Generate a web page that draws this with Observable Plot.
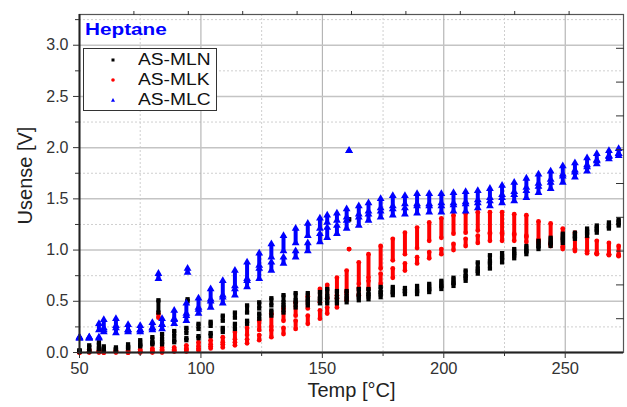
<!DOCTYPE html>
<html>
<head>
<meta charset="utf-8">
<script src="https://cdn.jsdelivr.net/npm/d3@7"></script>
<script src="https://cdn.jsdelivr.net/npm/@observablehq/plot@0.6"></script>
<style>
  body { margin: 0; background: #fff; font-family: "Liberation Sans", Arial, sans-serif; }
  #wrap { position: relative; width: 627px; height: 407px; }
  #title { position: absolute; left: 85px; top: 20px; font-weight: bold; font-size: 17px; color: #0000ff; transform: scaleX(1.22); transform-origin: left top; }
  #legend { position: absolute; left: 83px; top: 48px; width: 132px; height: 61px; border: 1px solid #333; background: #fff; }
  .row { position: absolute; left: 0; width: 132px; height: 20px; font-size: 16px; color: #111; }
  .row svg { position: absolute; left: 25px; top: 6px; }
  .row span { position: absolute; left: 54px; top: 1px; transform: scaleX(1.2); transform-origin: left top; }
</style>
</head>
<body>
<div id="wrap">
  <div id="chart"></div>
  <div id="title">Heptane</div>
  <div id="legend"></div>
</div>
<script>
// ---- data ----
const seriesNames = ["AS-MLN", "AS-MLK", "AS-MLC"];
const seriesColors = ["#000000", "#ff0000", "#0000ff"];
const seriesSymbols = ["square", "circle", "triangle"];

const temps = [50,54,58,60,65,70,75,80,84,89,94,99,104,109,114,119,124,129,134,139,144,149,152,156,160,165,169,174,179,184,189,194,199,204,209,214,219,224,229,234,239,244,249,254,259,263,268,272];

// AS-MLN (black)
const mlnUpTop = [.02,.07,.10,.06,.05,.08,.12,.15,.18,.21,.24,.28,.30,.36,.39,.46,.49,.53,.56,.58,.58,.59,.62,.60,.60,.62,.62,.64,.64,.63,.65,.67,.70,.73,.80,.88,.95,.97,1.01,1.04,1.09,1.12,1.16,1.17,1.21,1.24,1.27,1.30];
const mlnUpBot = [.01,.05,.07,.03,.03,.05,.08,.10,.13,.16,.19,.23,.26,.31,.34,.39,.43,.46,.49,.51,.52,.53,.55,.54,.55,.56,.57,.59,.60,.60,.61,.63,.66,.69,.75,.82,.89,.93,.97,1.00,1.05,1.08,1.12,1.14,1.18,1.21,1.24,1.27];
const mlnLoTop = [.02,.02,.04,.03,.03,.05,.07,.09,.10,.12,.14,.16,.19,.24,.28,.31,.38,.41,.46,.49,.50,.52,.53,.52,.53,.55,.56,.58,.59,.60,.60,.62,.65,.68,.74,.80,.87,.92,.96,.99,1.04,1.07,1.11,1.13,1.17,1.20,1.23,1.26];
const mlnLoBot = [.01,.01,.03,.02,.02,.04,.06,.08,.08,.10,.12,.14,.16,.20,.23,.28,.33,.36,.39,.44,.46,.48,.48,.48,.49,.51,.52,.54,.56,.57,.57,.59,.62,.65,.70,.77,.82,.88,.92,.96,1.01,1.04,1.07,1.11,1.14,1.17,1.21,1.24];

// AS-MLK (red)
const mlkUpTop = [.01,.03,.02,.02,.02,.02,.03,.04,.05,.05,.07,.10,.12,.15,.20,.24,.31,.38,.43,.49,.55,.62,.66,.73,.80,.88,.96,1.04,1.11,1.17,1.22,1.27,1.31,1.34,1.36,1.37,1.37,1.37,1.35,1.34,1.28,1.26,1.21,1.17,1.12,1.09,1.07,1.04];
const mlkUpBot = [.00,.01,.01,.00,.01,.00,.01,.02,.03,.03,.04,.06,.08,.10,.13,.17,.22,.25,.31,.36,.43,.49,.53,.56,.60,.67,.73,.82,.90,.96,1.02,1.09,1.12,1.16,1.17,1.19,1.17,1.17,1.16,1.14,1.09,1.06,1.03,1.01,.99,.97,.96,.95];
const mlkLoTop = [.00,.01,.01,.00,.01,.00,.01,.01,.02,.02,.03,.04,.06,.08,.10,.13,.17,.22,.24,.31,.36,.41,.44,.53,.58,.63,.70,.77,.82,.87,.93,.98,1.01,1.06,1.11,1.14,1.16,1.16,1.15,1.13,1.10,1.06,1.03,1.01,.99,.97,.96,.95];
const mlkLoBot = [.00,.00,.00,.00,.00,.00,.00,.00,.00,.01,.01,.02,.04,.05,.07,.09,.12,.15,.18,.23,.28,.33,.38,.44,.51,.56,.62,.67,.73,.80,.87,.92,.96,1.00,1.04,1.07,1.09,1.09,1.09,1.08,1.07,1.04,1.01,.99,.97,.96,.95,.94];

// AS-MLC (blue)
const mlcUpTop = [.15,.15,.28,.32,.33,.27,.26,.29,.33,.41,.48,.53,.62,.70,.80,.88,.97,1.06,1.14,1.21,1.26,1.31,1.34,1.36,1.40,1.43,1.46,1.50,1.53,1.53,1.55,1.55,1.55,1.56,1.57,1.58,1.60,1.63,1.66,1.70,1.74,1.77,1.82,1.85,1.90,1.94,1.97,1.99];
const mlcUpBot = [.14,.14,.22,.24,.26,.22,.22,.24,.27,.33,.38,.44,.52,.56,.65,.72,.85,.93,.99,1.07,1.14,1.21,1.27,1.29,1.32,1.35,1.38,1.41,1.43,1.45,1.45,1.45,1.46,1.46,1.47,1.49,1.51,1.54,1.57,1.61,1.65,1.69,1.74,1.78,1.83,1.88,1.92,1.94];
const mlcLoTop = [.15,.15,.15,.22,.24,.22,.22,.24,.27,.32,.36,.42,.50,.54,.62,.70,.82,.88,.93,.99,1.07,1.16,1.22,1.24,1.29,1.32,1.35,1.38,1.40,1.41,1.43,1.43,1.43,1.44,1.45,1.46,1.48,1.51,1.54,1.58,1.62,1.66,1.72,1.76,1.81,1.87,1.91,1.94];
const mlcLoBot = [.14,.14,.14,.20,.19,.20,.20,.22,.23,.28,.31,.38,.44,.48,.56,.64,.72,.80,.87,.93,.99,1.08,1.12,1.16,1.21,1.24,1.29,1.32,1.34,1.35,1.36,1.37,1.37,1.38,1.38,1.41,1.43,1.46,1.48,1.51,1.56,1.60,1.66,1.71,1.77,1.84,1.89,1.92];

// stray points
const strayTemps = [82.5, 94.5, 161];
const mlnStrayTop = [0.51, 0.52, 1.30];
const mlnStrayBot = [0.39, 0.50, 1.30];
const mlkStrayTop = [0.38, null, 1.01];
const mlkStrayBot = [0.34, null, 1.01];
const mlcStrayTop = [0.77, 0.82, 1.97];
const mlcStrayBot = [0.72, 0.78, 1.97];

// axes
const xDomain = [50, 274];
const yDomain = [0, 3.3];
const xMajor = [50, 100, 150, 200, 250];
const xMinor = [75, 125, 175, 225];
const yMajor = [0, 0.5, 1.0, 1.5, 2.0, 2.5, 3.0];
const yMinor = [0.25, 0.75, 1.25, 1.75, 2.25, 2.75, 3.25];
const xTopTicks = [72.4, 94.8, 117.2, 139.6, 162, 184.4, 206.8, 229.2, 251.6];
const yRightTicks = [0.33, 0.66, 0.99, 1.32, 1.65, 1.98, 2.31, 2.64, 2.97];

// ---- build tables ----
const sets = [
  [mlnUpTop, mlnUpBot, mlnLoTop, mlnLoBot, mlnStrayTop, mlnStrayBot],
  [mlkUpTop, mlkUpBot, mlkLoTop, mlkLoBot, mlkStrayTop, mlkStrayBot],
  [mlcUpTop, mlcUpBot, mlcLoTop, mlcLoBot, mlcStrayTop, mlcStrayBot]
];
const clusters = [];
sets.forEach((s, si) => {
  temps.forEach((t, i) => {
    clusters.push({s: si, t, top: s[0][i], bot: s[1][i]});
    clusters.push({s: si, t, top: s[2][i], bot: s[3][i]});
  });
  strayTemps.forEach((t, i) => {
    if (s[4][i] != null) clusters.push({s: si, t, top: s[4][i], bot: s[5][i]});
  });
});
const drawOrder = [1, 0, 2];

const marks = [
  Plot.gridX(xMinor, {stroke: "#cfcfcf", strokeOpacity: 1, strokeDasharray: "2,2"}),
  Plot.gridY(yMinor, {stroke: "#cfcfcf", strokeOpacity: 1, strokeDasharray: "2,2"}),
  Plot.gridX(xMajor, {stroke: "#a8a8a8", strokeOpacity: 1, strokeWidth: 1}),
  Plot.gridY(yMajor, {stroke: "#c4c4c4", strokeOpacity: 1, strokeWidth: 1.5}),
];
for (const si of drawOrder) {
  const d = clusters.filter(c => c.s === si);
  const r = si === 2 ? 2.9 : 2.4;
  marks.push(
    Plot.ruleX(d, {x: "t", y1: "bot", y2: "top", stroke: seriesColors[si], strokeWidth: 4}),
    Plot.dot(d, {x: "t", y: "top", symbol: seriesSymbols[si], r, fill: seriesColors[si], stroke: "none"}),
    Plot.dot(d, {x: "t", y: "bot", symbol: seriesSymbols[si], r, fill: seriesColors[si], stroke: "none"})
  );
}
marks.push(
  Plot.frame({stroke: "#555", strokeWidth: 1.2}),
  Plot.ruleY([yDomain[0]], {stroke: "#222", strokeWidth: 2}),
  Plot.ruleX([xDomain[0]], {stroke: "#222", strokeWidth: 2}),
  Plot.axisX(xMajor, {tickSize: 6, tickPadding: 4, fontSize: 16.5, label: null, color: "#333"}),
  Plot.axisX(xMinor, {tickSize: 4, text: null, label: null, color: "#333"}),
  Plot.axisX(xTopTicks, {anchor: "top", tickSize: 4, text: null, label: null, color: "#333"}),
  Plot.axisY(yMajor, {tickSize: 6, tickPadding: 5, fontSize: 16, tickFormat: d3.format(".1f"), label: null, color: "#333"}),
  Plot.axisY(yMinor, {tickSize: 4, text: null, label: null, color: "#333"}),
  Plot.axisY(yRightTicks, {anchor: "right", tickSize: -8, text: null, label: null, color: "#333"}),
  Plot.text(["Temp [°C]"], {frameAnchor: "bottom", dy: 38, fontSize: 20, fill: "#222", textAnchor: "middle", lineAnchor: "middle"}),
  Plot.text(["Usense [V]"], {frameAnchor: "left", dx: -54, dy: -8, rotate: -90, fontSize: 20, fill: "#222", textAnchor: "middle", lineAnchor: "middle"})
);

const chart = Plot.plot({
  width: 627,
  height: 407,
  marginLeft: 79,
  marginRight: 4,
  marginTop: 14,
  marginBottom: 55,
  style: {fontFamily: "'Liberation Sans', Arial, sans-serif", background: "#fff", overflow: "visible"},
  x: {domain: xDomain},
  y: {domain: yDomain},
  marks
});
document.getElementById("chart").appendChild(chart);

// legend
const legend = document.getElementById("legend");
const symPaths = {
  square: '<rect x="2.5" y="2.5" width="3" height="3"/>',
  circle: '<circle cx="4" cy="4" r="1.8"/>',
  triangle: '<path d="M4,2 L6,5.8 L2,5.8 Z"/>'
};
seriesNames.forEach((name, i) => {
  const row = document.createElement("div");
  row.className = "row";
  row.style.top = (i * 20 + 1) + "px";
  row.innerHTML = `<svg width="8" height="8" fill="${seriesColors[i]}">${symPaths[seriesSymbols[i]]}</svg><span>${name}</span>`;
  legend.appendChild(row);
});
</script>
</body>
</html>
